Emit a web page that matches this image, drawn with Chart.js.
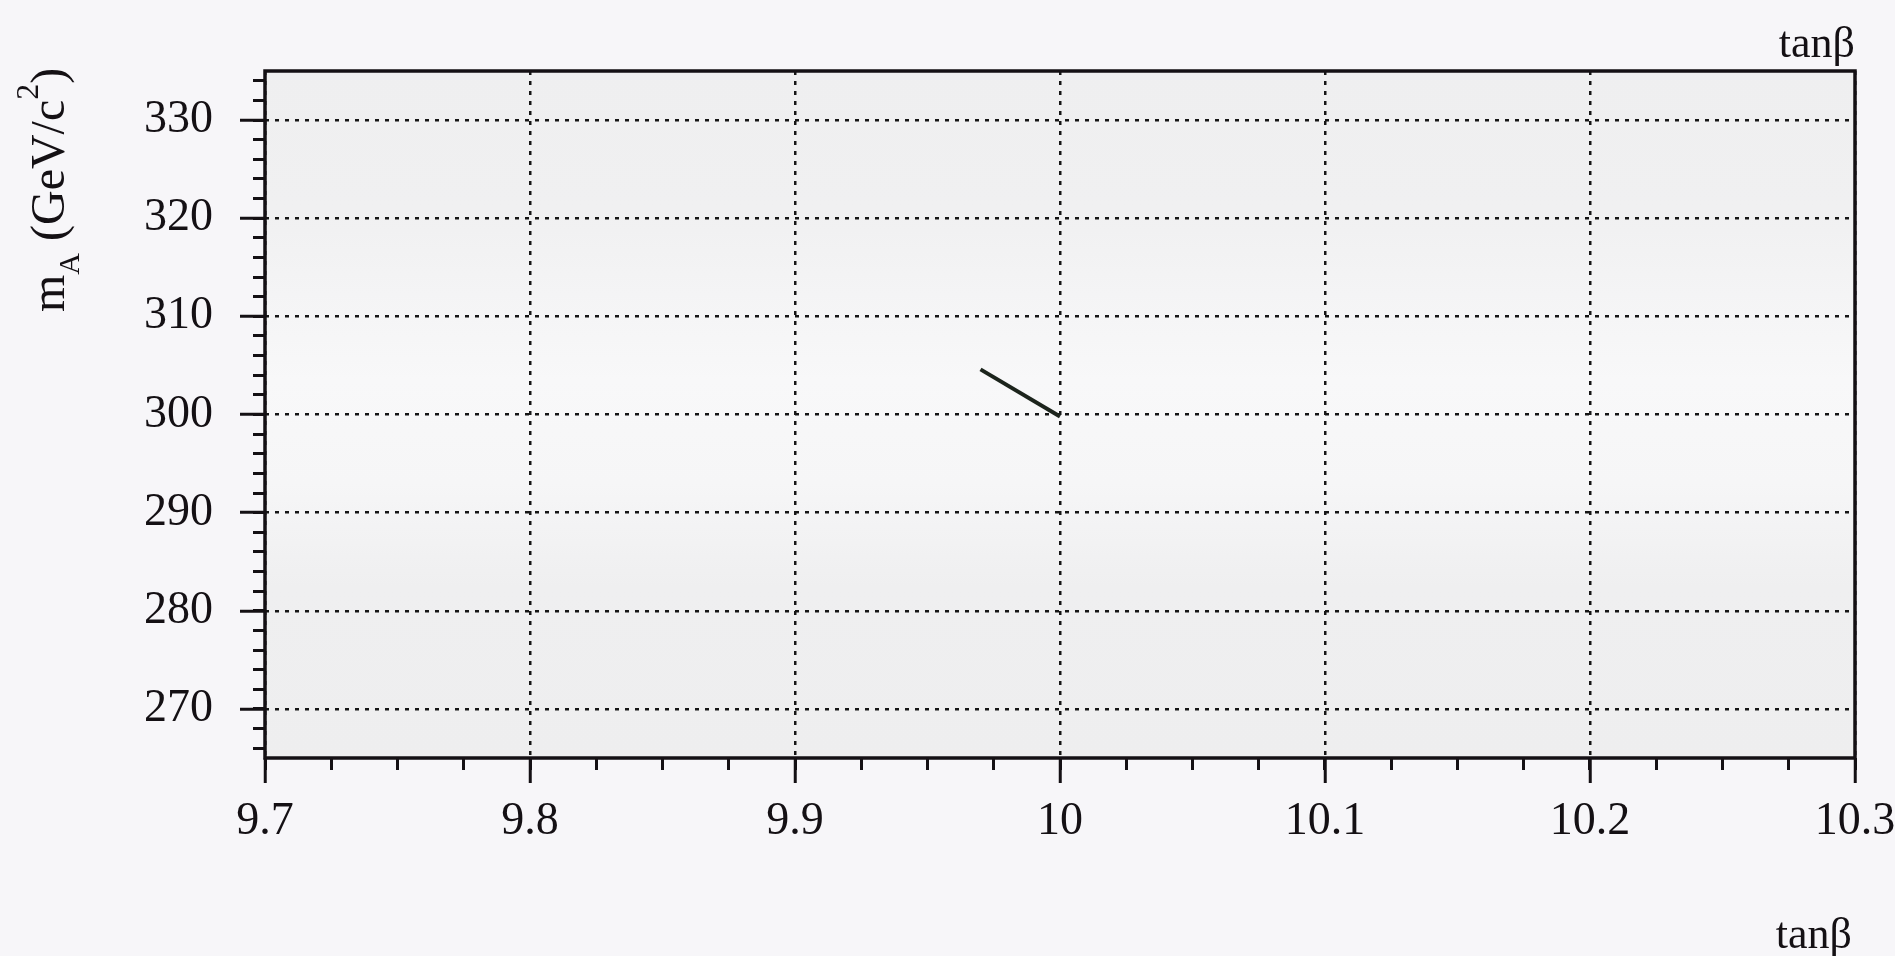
<!DOCTYPE html>
<html>
<head>
<meta charset="utf-8">
<script src="https://cdn.jsdelivr.net/npm/chart.js@4.4.1/dist/chart.umd.min.js"></script>
<style>
  html, body { margin: 0; padding: 0; background: #f7f6f9; overflow: hidden; }
  #wrap { position: relative; width: 1895px; height: 956px; }
  canvas { display: block; }
</style>
</head>
<body>
<div id="wrap"><canvas id="chart" width="1895" height="956"></canvas></div>
<script>
// m_A versus tan(beta) curve segment
const tanBeta = [9.970, 10.000];
const massA = [304.6, 299.8];

// axis ranges and labelled ticks
const xRange = [9.7, 10.3];
const yRange = [265, 335];
const xMajorTicks = [9.7, 9.8, 9.9, 10, 10.1, 10.2, 10.3];
const yMajorTicks = [270, 280, 290, 300, 310, 320, 330];
const xMinorStep = 0.025;
const yMinorStep = 2;

// axis captions
const xCaption = 'tanβ';
const yCaptionParts = [
  { text: 'm', size: 48, shift: 0 },
  { text: 'A', size: 30, shift: 15 },
  { text: ' (GeV/c', size: 48, shift: 0 },
  { text: '2', size: 32, shift: -26 },
  { text: ')', size: 48, shift: 0 }
];

const SERIF = '"Liberation Serif", "DejaVu Serif", serif';
const INK = '#141014';

function fixedTicks(values) {
  return function (scale) {
    scale.ticks = values.map(v => ({ value: v }));
  };
}
function minorTicks(step) {
  return function (scale) {
    const out = [];
    const n0 = Math.ceil(scale.min / step - 1e-9);
    const n1 = Math.floor(scale.max / step + 1e-9);
    for (let n = n0; n <= n1; n++) out.push({ value: Math.round(n * step * 1e6) / 1e6 });
    scale.ticks = out;
  };
}
function sizeAxis(dim, px) {
  return function (scale) {
    scale[dim] = px;
    scale.paddingLeft = 0; scale.paddingRight = 0;
    scale.paddingTop = 0; scale.paddingBottom = 0;
  };
}

const framePlugin = {
  id: 'frame',
  beforeDraw(chart) {
    const { ctx, chartArea: a } = chart;
    ctx.save();
    const g = ctx.createLinearGradient(0, a.top, 0, a.bottom);
    g.addColorStop(0.0, '#efeff0');
    g.addColorStop(0.2, '#f0f0f1');
    g.addColorStop(0.45, '#f8f8f9');
    g.addColorStop(0.6, '#f6f6f7');
    g.addColorStop(0.75, '#efeff0');
    g.addColorStop(1.0, '#eeeeef');
    ctx.fillStyle = g;
    ctx.fillRect(a.left, a.top, a.right - a.left, a.bottom - a.top);
    ctx.restore();
  },
  afterDraw(chart) {
    const { ctx, chartArea: a } = chart;
    ctx.save();
    ctx.strokeStyle = INK;
    ctx.lineWidth = 3.5;
    ctx.strokeRect(a.left, a.top, a.right - a.left, a.bottom - a.top);

    ctx.fillStyle = INK;
    ctx.textBaseline = 'alphabetic';
    ctx.textAlign = 'right';
    ctx.font = '44px ' + SERIF;
    ctx.fillText(xCaption, a.right, 57);
    ctx.fillText(xCaption, a.right - 3, 948);

    // rotated y caption with sub/superscript
    ctx.translate(64, 312);
    ctx.rotate(-Math.PI / 2);
    ctx.textAlign = 'left';
    let cx = 0;
    yCaptionParts.forEach(p => {
      ctx.font = p.size + 'px ' + SERIF;
      ctx.fillText(p.text, cx, p.shift);
      cx += ctx.measureText(p.text).width;
    });
    ctx.restore();
  }
};

const gridDash = [4, 6];

new Chart(document.getElementById('chart'), {
  type: 'scatter',
  data: {
    datasets: [{
      data: tanBeta.map((x, i) => ({ x, y: massA[i] })),
      showLine: true,
      borderColor: '#1c241c',
      borderWidth: 4,
      pointRadius: 0,
      tension: 0
    }]
  },
  options: {
    responsive: false,
    animation: false,
    devicePixelRatio: 1,
    layout: { padding: { top: 71, right: 40, left: 0, bottom: 0 } },
    plugins: { legend: { display: false }, tooltip: { enabled: false } },
    scales: {
      x: {
        type: 'linear', position: 'bottom', weight: 1,
        min: xRange[0], max: xRange[1],
        afterBuildTicks: fixedTicks(xMajorTicks),
        afterFit: sizeAxis('height', 198),
        border: { display: false, dash: gridDash },
        grid: { color: '#161616', lineWidth: 2.5, tickLength: 25, tickWidth: 3, tickColor: INK, tickBorderDash: [] },
        ticks: {
          autoSkip: false, maxRotation: 0, padding: 11, color: INK,
          font: { family: SERIF, size: 46 },
          callback: v => String(Math.round(v * 10) / 10)
        }
      },
      xMinor: {
        type: 'linear', position: 'bottom', weight: 0,
        min: xRange[0], max: xRange[1],
        afterBuildTicks: minorTicks(xMinorStep),
        afterFit: sizeAxis('height', 0),
        border: { display: false },
        grid: { drawOnChartArea: false, tickLength: 12, tickWidth: 3, tickColor: INK },
        ticks: { display: false, autoSkip: false }
      },
      y: {
        type: 'linear', position: 'left', weight: 1,
        min: yRange[0], max: yRange[1],
        afterBuildTicks: fixedTicks(yMajorTicks),
        afterFit: sizeAxis('width', 265),
        border: { display: false, dash: gridDash },
        grid: { color: '#161616', lineWidth: 2.5, tickLength: 25, tickWidth: 3, tickColor: INK, tickBorderDash: [] },
        ticks: {
          autoSkip: false, padding: 27, color: INK,
          font: { family: SERIF, size: 46 },
          callback: v => String(v)
        }
      },
      yMinor: {
        type: 'linear', position: 'left', weight: 0,
        min: yRange[0], max: yRange[1],
        afterBuildTicks: minorTicks(yMinorStep),
        afterFit: sizeAxis('width', 0),
        border: { display: false },
        grid: { drawOnChartArea: false, tickLength: 12, tickWidth: 3, tickColor: INK },
        ticks: { display: false, autoSkip: false }
      }
    }
  },
  plugins: [framePlugin]
});
</script>
</body>
</html>
